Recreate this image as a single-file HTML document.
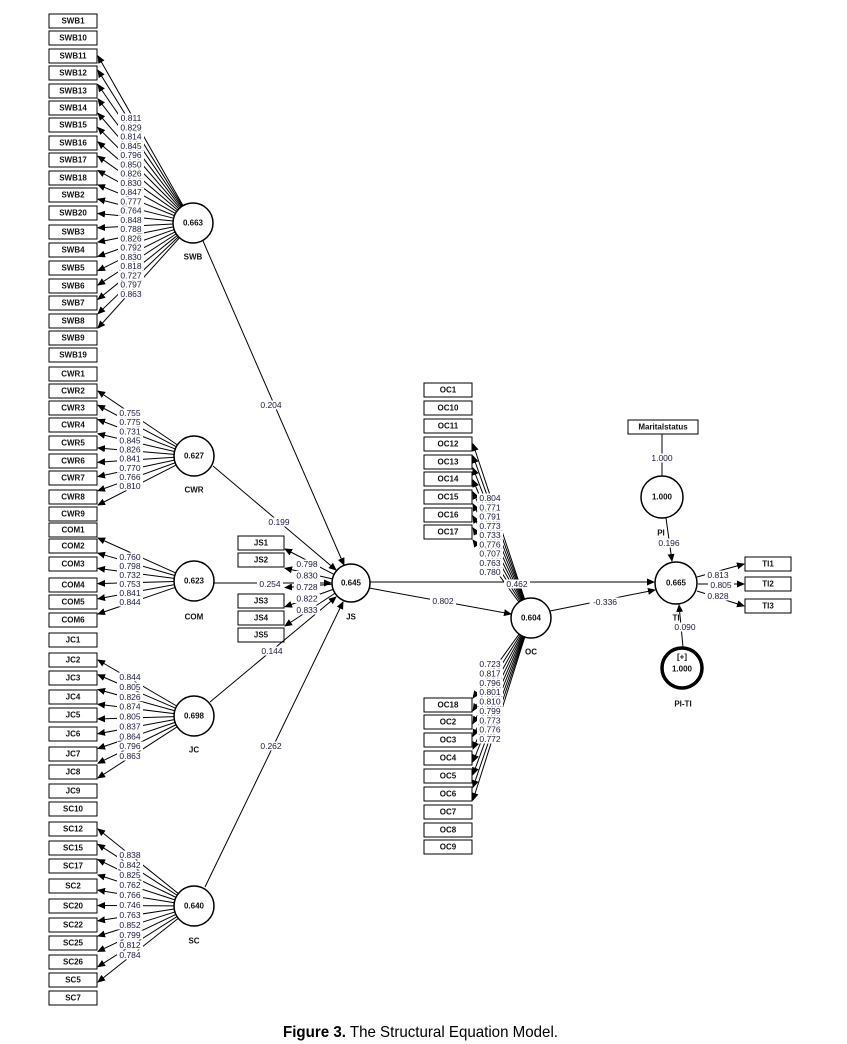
<!DOCTYPE html>
<html><head><meta charset="utf-8"><style>
html,body{margin:0;padding:0;background:#fff;}
svg{display:block;}
text{font-family:"Liberation Sans",sans-serif;}
.b{font-size:8px;font-weight:bold;fill:#111;text-anchor:middle;dominant-baseline:central;}
.l{font-size:8.5px;fill:#1a1a40;text-anchor:middle;dominant-baseline:central;}
.cap{font-family:"Liberation Sans Narrow","Liberation Sans",sans-serif;font-size:16px;fill:#000;}
</style></head><body>
<svg id="s" width="847" height="1044" viewBox="0 0 847 1044" xmlns="http://www.w3.org/2000/svg">
<defs><marker id="a" markerWidth="8" markerHeight="8" refX="7" refY="4" orient="auto" markerUnits="userSpaceOnUse"><path d="M0,0.5 L8,4 L0,7.5 z" fill="#000"/></marker></defs>
<g id="g" stroke="#000" fill="none" stroke-width="1"></g>
<g id="t"></g>
<text class="cap" x="283" y="1037" textLength="275" lengthAdjust="spacingAndGlyphs"><tspan font-weight="bold">Figure 3.</tspan> The Structural Equation Model.</text>
</svg>
<script>
var G=document.getElementById('g'),T=document.getElementById('t'),NS='http://www.w3.org/2000/svg';
function el(p,n,a){var e=document.createElementNS(NS,n);for(var k in a)e.setAttribute(k,a[k]);p.appendChild(e);return e;}
function txt(x,y,s,c,extra){var e=el(T,'text',Object.assign({x:x,y:y,'class':c},extra||{}));e.textContent=s;return e;}
function box(x,y,w,s){el(G,'rect',{x:x,y:y-7,width:w,height:14,fill:'#fff'});txt(x+w/2,y,s,'b');}
function line(x1,y1,x2,y2,arr){var a={x1:x1,y1:y1,x2:x2,y2:y2};if(arr)a['marker-end']='url(#a)';el(G,'line',a);}
function circ(x,y,r,v,lab,ly,sw){el(G,'circle',{cx:x,cy:y,r:r,fill:'#fff','stroke-width':sw||1.5});txt(x,y,v,'b');if(lab)txt(x,ly,lab,'b');}
function lbl(x,y,s){var w=s.length*4.8+2;el(T,'rect',{x:x-w/2,y:y-4.5,width:w,height:9,fill:'#fff'});txt(x,y,s,'l');}
function block(names,ys,cx,cy,vals,ly0,ly1,ty0,ty1,lx,bx,bw,c){
  for(var i=0;i<names.length;i++)box(bx,ys[i],bw,names[i]);
  var n=vals.length;
  for(var i=0;i<n;i++){var f=n>1?i/(n-1):0;var ty=ty0+(ty1-ty0)*f;var ly=ly0+(ly1-ly0)*f;
    var ang=Math.atan2(ty-cy,(bx+bw)-cx);
    line(cx+c*Math.cos(ang),cy+c*Math.sin(ang),bx+bw+1,ty,true);
    window._L=window._L||[];window._L.push([lx,ly,vals[i]]);}
}
var bx=49,bw=48;
block(['SWB1','SWB10','SWB11','SWB12','SWB13','SWB14','SWB15','SWB16','SWB17','SWB18','SWB2','SWB20','SWB3','SWB4','SWB5','SWB6','SWB7','SWB8','SWB9','SWB19'],
[21,38,56,73,91,108,125,143,160,178,195,213,232,250,268,286,303,321,338,355],193,223,
['0.811','0.829','0.814','0.845','0.796','0.850','0.826','0.830','0.847','0.777','0.764','0.848','0.788','0.826','0.792','0.830','0.818','0.727','0.797','0.863'],118,294,56,328,131,bx,bw,20);
block(['CWR1','CWR2','CWR3','CWR4','CWR5','CWR6','CWR7','CWR8','CWR9'],[374,391,408,425,443,461,478,497,514],194,456,
['0.755','0.775','0.731','0.845','0.826','0.841','0.770','0.766','0.810'],413,486,391,505,130,bx,bw,20);
block(['COM1','COM2','COM3','COM4','COM5','COM6'],[530,546,564,585,602,620],194,581,
['0.760','0.798','0.732','0.753','0.841','0.844'],557,602,538,614,130,bx,bw,20);
block(['JC1','JC2','JC3','JC4','JC5','JC6','JC7','JC8','JC9'],[640,660,678,697,715,734,754,772,791],194,716,
['0.844','0.805','0.826','0.874','0.805','0.837','0.864','0.796','0.863'],677,756,660,778,130,bx,bw,20);
block(['SC10','SC12','SC15','SC17','SC2','SC20','SC22','SC25','SC26','SC5','SC7'],[809,829,848,866,886,906,925,943,962,980,998],194,906,
['0.838','0.842','0.825','0.762','0.766','0.746','0.763','0.852','0.799','0.812','0.784'],855,955,829,982,130,bx,bw,20);
block(['JS1','JS2','JS3','JS4','JS5'],[543,560,601,618,635],351,583,
['0.798','0.830','0.728','0.822','0.833'],564,610,549,626,307,238,46,19);
block(['OC1','OC10','OC11','OC12','OC13','OC14','OC15','OC16','OC17'],[390,408,426,444,462,479,497,515,532],531,618,
['0.804','0.771','0.791','0.773','0.733','0.776','0.707','0.763','0.780'],498,572,444,540,490,424,48,20);
block(['OC18','OC2','OC3','OC4','OC5','OC6','OC7','OC8','OC9'],[705,722,740,758,776,794,812,830,847],531,618,
['0.723','0.817','0.796','0.801','0.810','0.799','0.773','0.776','0.772'],664,739,698,800,490,424,48,20);
line(203,241,344,565,true); line(213,466,336,570,true); line(214,583,331,583,true);
line(210,702,336,597,true); line(205,887,343,602,true);
line(370,582,654,582,true); line(369,588,511,614,true); line(550,611,655,590,true);
box(628,427,70,'Maritalstatus'); line(662,434,662,476);
line(666,518,672,561,true); line(683,647,679,605,true);
line(697,577,744,564,true); line(698,584,744,584,true); line(697,591,744,606,true);
box(745,564,46,'TI1'); box(745,584,46,'TI2'); box(745,606,46,'TI3');
circ(193,223,20,'0.663','SWB',257); circ(194,456,20,'0.627','CWR',490); circ(194,581,20,'0.623','COM',617);
circ(194,716,20,'0.698','JC',750); circ(194,906,20,'0.640','SC',941); circ(351,583,19,'0.645','JS',617);
circ(531,618,20,'0.604','OC',652); circ(676,583,21,'0.665'); circ(662,497,21,'1.000');
circ(682,668,20,'','',0,3.5); txt(682,657,'[+]','b',{fill:'#3366aa'}); txt(682,669,'1.000','b'); txt(683,704,'PI-TI','b');
window._L.forEach(function(l){lbl(l[0],l[1],l[2]);});
lbl(271,405,'0.204');lbl(279,522,'0.199');lbl(270,584,'0.254');lbl(272,651,'0.144');lbl(271,746,'0.262');
lbl(517,584,'0.462');lbl(443,601,'0.802');lbl(605,602,'-0.336');lbl(662,458,'1.000');
txt(661,533,'PI','b');lbl(669,543,'0.196');txt(676,618,'TI','b');lbl(685,627,'0.090');
lbl(718,575,'0.813');lbl(721,585,'0.805');lbl(718,596,'0.828');
</script>
</body></html>
